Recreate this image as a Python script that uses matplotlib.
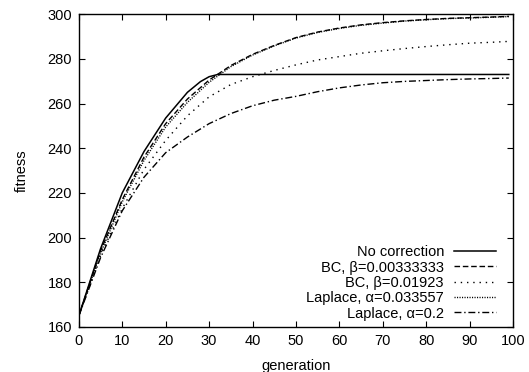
import matplotlib.pyplot as plt

plt.rcParams['font.family'] = ['Liberation Sans', 'DejaVu Sans']

# Data
gens = [0, 5, 10, 15, 20, 25, 30, 35, 40, 45, 50, 55, 60, 65, 70, 75, 80, 85, 90, 95, 99]
gens_nc = [0, 5, 10, 15, 20, 25, 28, 30, 32, 40, 50, 60, 70, 80, 90, 99]
no_correction = [165, 195, 220, 238.5, 253.5, 265, 269.8, 272, 273, 273, 273, 273, 273, 273, 273, 273]
bc_small = [165, 194, 217, 236, 251, 262, 270.5, 277, 282, 286, 289.5, 292, 293.8,
            295.2, 296.2, 297, 297.6, 298.1, 298.4, 298.7, 299]
bc_large = [165, 192, 213, 230.5, 243.5, 254.5, 263, 268.5, 272, 274.8, 277.3, 279.5, 281,
            282.5, 283.6, 284.6, 285.5, 286.3, 287, 287.4, 287.8]
laplace_small = [165, 193, 216, 234.5, 249.5, 260.5, 269.5, 276.5, 281.7, 285.8, 289.3,
                 291.8, 293.6, 295, 296, 296.9, 297.5, 298, 298.3, 298.6, 298.9]
laplace_large = [165, 191, 212, 227, 238, 245, 251, 255.5, 259, 261.5, 263.2, 265.3,
                 267, 268.3, 269.3, 269.9, 270.3, 270.7, 271, 271.2, 271.4]

fig = plt.figure(figsize=(5.29, 3.72), dpi=100)
ax = fig.add_axes([0.149, 0.121, 0.821, 0.841])

ax.plot(gens_nc, no_correction, color='black', lw=1.1, ls='-', label='No correction')
ax.plot(gens, bc_small, color='black', lw=1.0, ls=(0, (4, 2)), label='BC, β=0.00333333')
ax.plot(gens, bc_large, color='black', lw=1.0, ls=(0, (1, 3.5)), label='BC, β=0.01923')
ax.plot(gens, laplace_small, color='black', lw=1.0, ls=(0, (0.8, 1)), label='Laplace, α=0.033557')
ax.plot(gens, laplace_large, color='black', lw=1.0, ls=(0, (5, 2, 1, 2)), label='Laplace, α=0.2')

ax.set_xlim(0, 100)
ax.set_ylim(160, 300)
ax.set_xticks(range(0, 101, 10))
ax.set_yticks(range(160, 301, 20))
ax.tick_params(direction='in', top=True, right=True, length=4, width=0.8, labelsize=10.5, pad=5)
for s in ax.spines.values():
    s.set_linewidth(1.0)

ax.set_xlabel('generation', fontsize=10.5, labelpad=8)
ax.set_ylabel('fitness', fontsize=10.5, labelpad=13)

ax.legend(loc='lower right', bbox_to_anchor=(0.985, -0.012), frameon=False,
          markerfirst=False, fontsize=10.5, handlelength=2.9, handletextpad=0.7,
          labelspacing=0.09, borderpad=0.2)

fig.savefig('out.png', dpi=100)
